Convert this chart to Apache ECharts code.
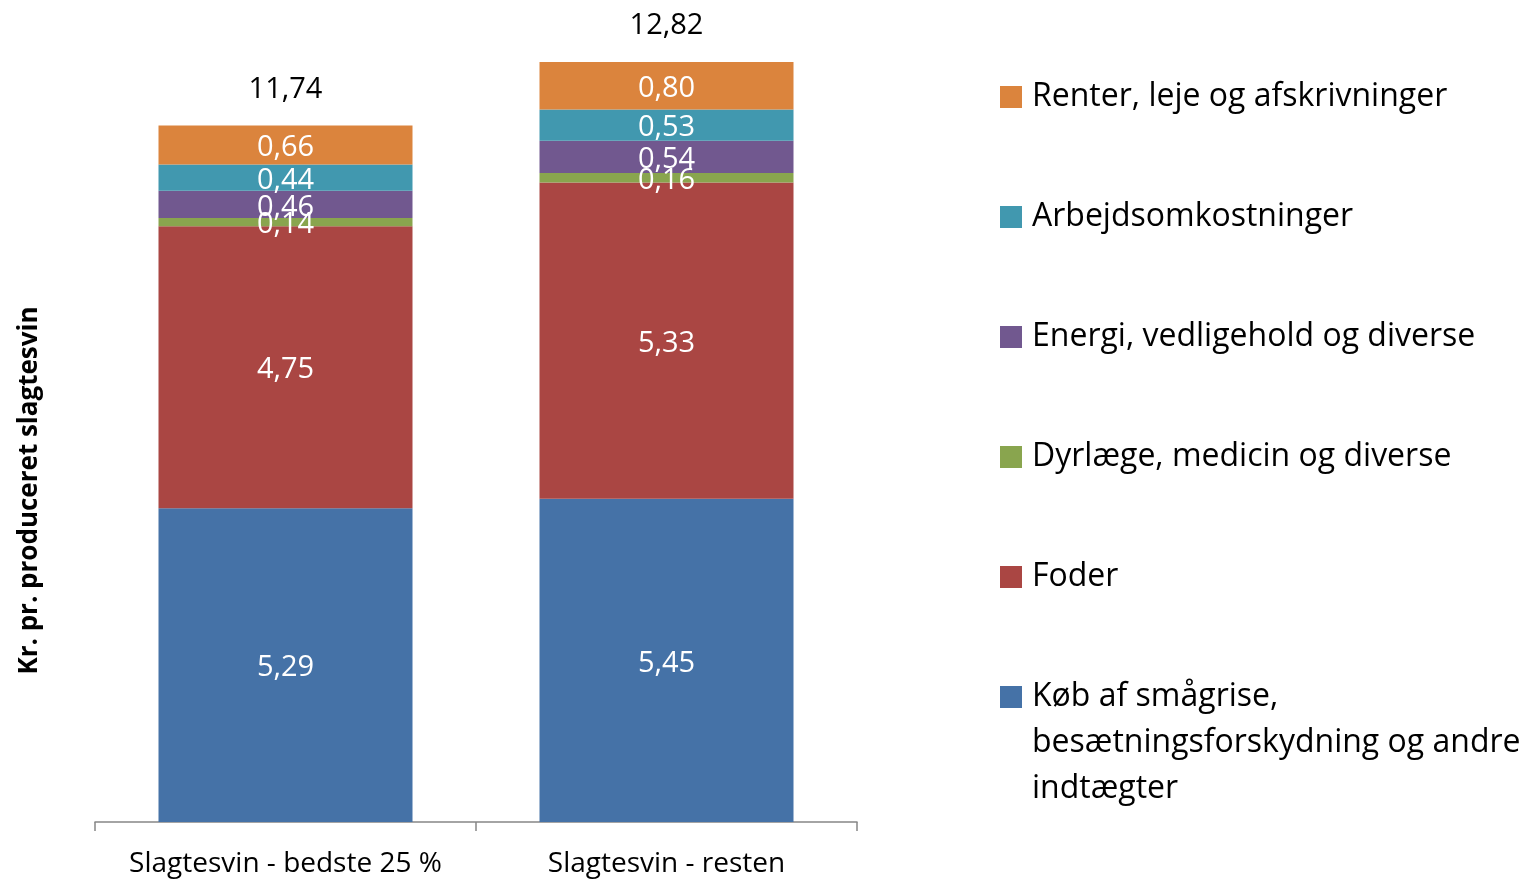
<!DOCTYPE html>
<html>
<head>
<meta charset="utf-8">
<title>Kr. pr. produceret slagtesvin</title>
<script src="https://cdn.jsdelivr.net/npm/echarts@6/dist/echarts.min.js"></script>
<style>
  html, body { margin: 0; padding: 0; background: #fff; }
  #chart { width: 1530px; height: 879px; }
</style>
</head>
<body>
<div id="chart"></div>
<script>
var categories = ['Slagtesvin - bedste 25 %', 'Slagtesvin - resten'];

var seriesNames = [
  'Køb af smågrise, besætningsforskydning og andre indtægter',
  'Foder',
  'Dyrlæge, medicin og diverse',
  'Energi, vedligehold og diverse',
  'Arbejdsomkostninger',
  'Renter, leje og afskrivninger'
];
var koebValues = [5.29, 5.45];
var foderValues = [4.75, 5.33];
var dyrlaegeValues = [0.14, 0.16];
var energiValues = [0.46, 0.54];
var arbejdValues = [0.44, 0.53];
var renterValues = [0.66, 0.80];
var totals = [11.74, 12.82];

var colors = ['#4572a7', '#aa4643', '#89a54e', '#71588f', '#4198af', '#db843d'];
var fontFamily = '"Open Sans", sans-serif';

function fmt(v) {
  return v.toFixed(2).replace('.', ',');
}

var chart = echarts.init(document.getElementById('chart'));

var valueLists = [koebValues, foderValues, dyrlaegeValues, energiValues, arbejdValues, renterValues];

var series = valueLists.map(function (vals, i) {
  return {
    name: seriesNames[i],
    type: 'bar',
    stack: 'cost',
    barWidth: 254,
    data: vals,
    itemStyle: { color: colors[i] },
    label: {
      show: true,
      position: 'inside',
      offset: [0, 3],
      color: '#fff',
      fontFamily: fontFamily,
      fontSize: 29,
      formatter: function (p) { return fmt(p.value); }
    }
  };
});

// totals above the stacks (invisible line, only its labels)
series.push({
  name: 'Total',
  type: 'line',
  data: totals,
  symbol: 'circle',
  symbolSize: 1,
  showSymbol: true,
  lineStyle: { color: 'rgba(0,0,0,0)', width: 0 },
  itemStyle: { color: 'rgba(0,0,0,0)' },
  silent: true,
  z: 10,
  label: {
    show: true,
    position: 'top',
    distance: 21,
    color: '#000',
    fontFamily: fontFamily,
    fontSize: 29,
    formatter: function (p) { return fmt(p.value); }
  }
});

// one legend per entry so they can sit at fixed heights, top entry first
var legendTops = [76, 196, 316, 436, 556, 577];
var legends = [5, 4, 3, 2, 1, 0].map(function (idx, k) {
  var multi = idx === 0;
  return {
    data: [seriesNames[idx]],
    left: 995,
    top: legendTops[k],
    itemWidth: 22,
    itemHeight: 22,
    icon: 'rect',
    selectedMode: false,
    formatter: multi
      ? function () { return '\n\nKøb af smågrise,\nbesætningsforskydning og andre\nindtægter'; }
      : '{name}',
    textStyle: {
      color: '#000',
      fontFamily: fontFamily,
      fontSize: 32,
      lineHeight: multi ? 46 : 32,
      padding: [0, 0, 0, 5]
    }
  };
});

var option = {
  animation: false,
  textStyle: { fontFamily: fontFamily },
  legend: legends,
  grid: { left: 95, right: 673, top: 21, bottom: 57 },
  xAxis: {
    type: 'category',
    data: categories,
    axisLine: { lineStyle: { color: '#868686', width: 1.5 } },
    axisTick: { show: true, length: 9, lineStyle: { color: '#868686', width: 1.5 } },
    axisLabel: { color: '#000', fontFamily: fontFamily, fontSize: 28, margin: 28, interval: 0 }
  },
  yAxis: {
    type: 'value',
    min: 0,
    max: 13.5,
    name: 'Kr. pr. produceret slagtesvin',
    nameLocation: 'middle',
    nameGap: 52,
    nameTextStyle: {
      color: '#000',
      fontFamily: fontFamily,
      fontSize: 26,
      fontWeight: 'bold',
      padding: [0, 138, 0, 0]
    },
    axisLine: { show: false },
    axisTick: { show: false },
    axisLabel: { show: false },
    splitLine: { show: false }
  },
  series: series
};

chart.setOption(option);
</script>
</body>
</html>
